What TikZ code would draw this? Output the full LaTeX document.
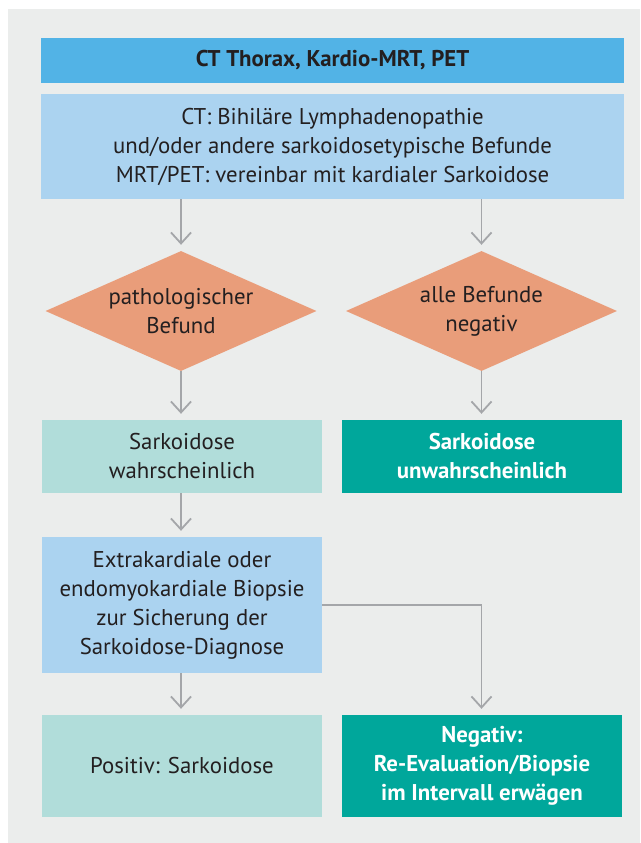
\documentclass[tikz,border=0pt]{standalone}
\usepackage{fontspec}
\setmainfont{PT Sans}
\usetikzlibrary{shapes.geometric,arrows.meta}
\definecolor{bg}{HTML}{EBEDEC}
\definecolor{topblue}{HTML}{52B3E6}
\definecolor{lightblue}{HTML}{ABD3F0}
\definecolor{salmon}{HTML}{E99D7A}
\definecolor{lightteal}{HTML}{B1DDDA}
\definecolor{teal}{HTML}{00A79B}
\definecolor{arr}{HTML}{A4A6A9}
\definecolor{txt}{HTML}{231F20}
\begin{document}
\begin{tikzpicture}[x=1pt,y=-1pt,
  base/.style={inner sep=0pt, align=center, text=txt, font=\fontsize{22.8}{29}\selectfont},
  boldf/.style={font=\fontsize{22.8}{29}\selectfont\bfseries},
  boxn/.style={base, rectangle, minimum width=280pt},
  diam/.style={base, diamond, fill=salmon, minimum width=271pt, minimum height=120pt, aspect=2.26},
  conn/.style={draw=arr, line width=1.8pt, shorten >=6pt,
    -{Straight Barb[length=11pt,width=20pt,line width=1.8pt]}}]
\useasboundingbox (0,0) rectangle (640,843);
\fill[white] (0,0) rectangle (640,843);
\fill[bg] (8,9) rectangle (640,843);

\node[base, boldf, rectangle, fill=topblue, minimum width=583pt, minimum height=45pt] (top) at (332.5,60.5) {CT Thorax, Kardio-MRT, PET};
\node[base, rectangle, fill=lightblue, minimum width=583pt, minimum height=105pt] (ct) at (332.5,146.5)
  {CT: Bihiläre Lymphadenopathie\\und/oder andere sarkoidosetypische Befunde\\MRT/PET: vereinbar mit kardialer Sarkoidose};

\node[diam] (d1) at (181,311) {pathologischer\\Befund};
\node[diam] (d2) at (481.5,311) {alle Befunde\\negativ};

\node[boxn, fill=lightteal, minimum height=73pt] (s1) at (182,456.5) {Sarkoidose\\wahrscheinlich};
\node[boxn, boldf, fill=teal, minimum height=73pt, text=white] (s2) at (482,456.5) {Sarkoidose\\unwahrscheinlich};

\node[boxn, fill=lightblue, minimum height=136pt] (bio) at (182,605)
  {Extrakardiale oder\\endomyokardiale Biopsie\\zur Sicherung der\\Sarkoidose-Diagnose};

\node[boxn, fill=lightteal, minimum height=102pt] (pos) at (182,766) {Positiv: Sarkoidose};
\node[boxn, boldf, fill=teal, minimum height=102pt, text=white] (neg) at (482,766)
  {Negativ:\\Re-Evaluation/Biopsie\\im Intervall erwägen};

\draw[conn] (ct.south -| d1.north) -- (d1.north);
\draw[conn] (ct.south -| d2.north) -- (d2.north);
\draw[conn] (d1.south) -- (s1.north -| d1.south);
\draw[conn] (d2.south) -- (s2.north -| d2.south);
\draw[conn] (s1.south -| d1.south) -- (bio.north -| d1.south);
\draw[conn] (bio.south -| d1.south) -- (pos.north -| d1.south);
\draw[conn] (bio.east) -| (neg.north -| d2.south);
\end{tikzpicture}
\end{document}
